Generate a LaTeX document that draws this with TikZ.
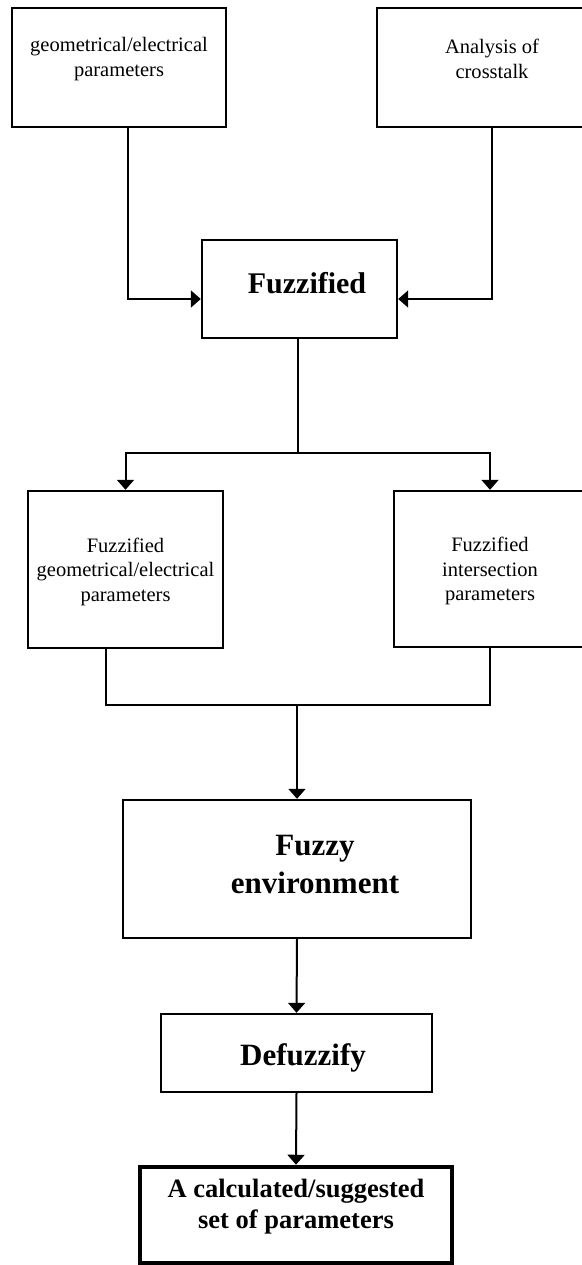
\documentclass[tikz,border=0pt]{standalone}
\usepackage{fontspec}
\setmainfont{Liberation Serif}
\usepackage{tikz}
\usetikzlibrary{arrows.meta,positioning}
\tikzstyle{block} = [rectangle, draw=black, line width=2.4pt, inner sep=0pt]
\tikzstyle{wire} = [line width=2pt]
\tikzstyle{arrow} = [line width=2pt, -{Triangle[width=17pt,length=10pt]}]
\tikzstyle{smalltext} = [font=\fontsize{20.5}{24.5}\selectfont, align=center]
\tikzstyle{bigtext} = [font=\fontsize{31}{38}\selectfont\bfseries, align=center]

\begin{document}
\begin{tikzpicture}[x=1pt, y=-1pt]
\useasboundingbox (0,0) rectangle (581,1265);

% Inputs
\node (geo) [block, minimum width=214pt, minimum height=119pt,
  label={[smalltext, yshift=8.5pt]center:{geometrical/electrical\\parameters}}] at (119,67.5) {};
\node (xtalk) [block, minimum width=230pt, minimum height=119pt,
  label={[smalltext, yshift=8.5pt]center:{Analysis of\\crosstalk}}] at (492,67.5) {};

% Fuzzification
\node (fuzz) [block, minimum width=195pt, minimum height=98pt,
  label={[bigtext, font=\fontsize{30}{36}\selectfont\bfseries, xshift=7.5pt, yshift=6pt]center:Fuzzified}] at (299.5,289) {};
\node (fpar) [block, minimum width=195pt, minimum height=157pt,
  label={[smalltext, yshift=-2pt]center:{Fuzzified\\geometrical/electrical\\parameters}}] at (125.5,569.5) {};
\node (fint) [block, minimum width=192pt, minimum height=156pt,
  label={[smalltext, yshift=-2pt]center:{Fuzzified\\intersection\\parameters}}] at (490,569) {};

% Fuzzy stage and output
\node (fenv) [block, minimum width=348pt, minimum height=138pt,
  label={[bigtext, xshift=18pt, yshift=5pt]center:{Fuzzy\\environment}}] at (297,869) {};
\node (defuzz) [block, minimum width=271pt, minimum height=78pt,
  label={[bigtext, xshift=6.5pt, yshift=-5pt]center:Defuzzify}] at (296.5,1053) {};
\node (result) [block, line width=4.5pt, minimum width=312pt, minimum height=96pt,
  label={[bigtext, font=\fontsize{26.5}{31}\selectfont\bfseries, yshift=8.5pt]center:{A calculated/suggested\\set of parameters}}] at (296,1215) {};

% Junction points
\coordinate (split) at (298,453);
\coordinate (merge) at (297,705);

% Arrows
\draw[arrow] ([xshift=9pt]geo.south) |- ([yshift=-10pt]fuzz.west);
\draw[arrow] (xtalk.south) |- ([yshift=-10pt]fuzz.east);
\draw[wire] ([xshift=-1.5pt]fuzz.south) -- (split);
\draw[arrow] (split) -| (fpar.north);
\draw[arrow] (split) -| (fint.north);
\draw[wire] ([xshift=-19.5pt]fpar.south) |- (merge);
\draw[wire] (fint.south) |- (merge);
\draw[arrow] (merge) -- (fenv.north);
\draw[arrow] (fenv.south) -- (defuzz.north);
\draw[arrow] (defuzz.south) -- (result.north);
\end{tikzpicture}
\end{document}
